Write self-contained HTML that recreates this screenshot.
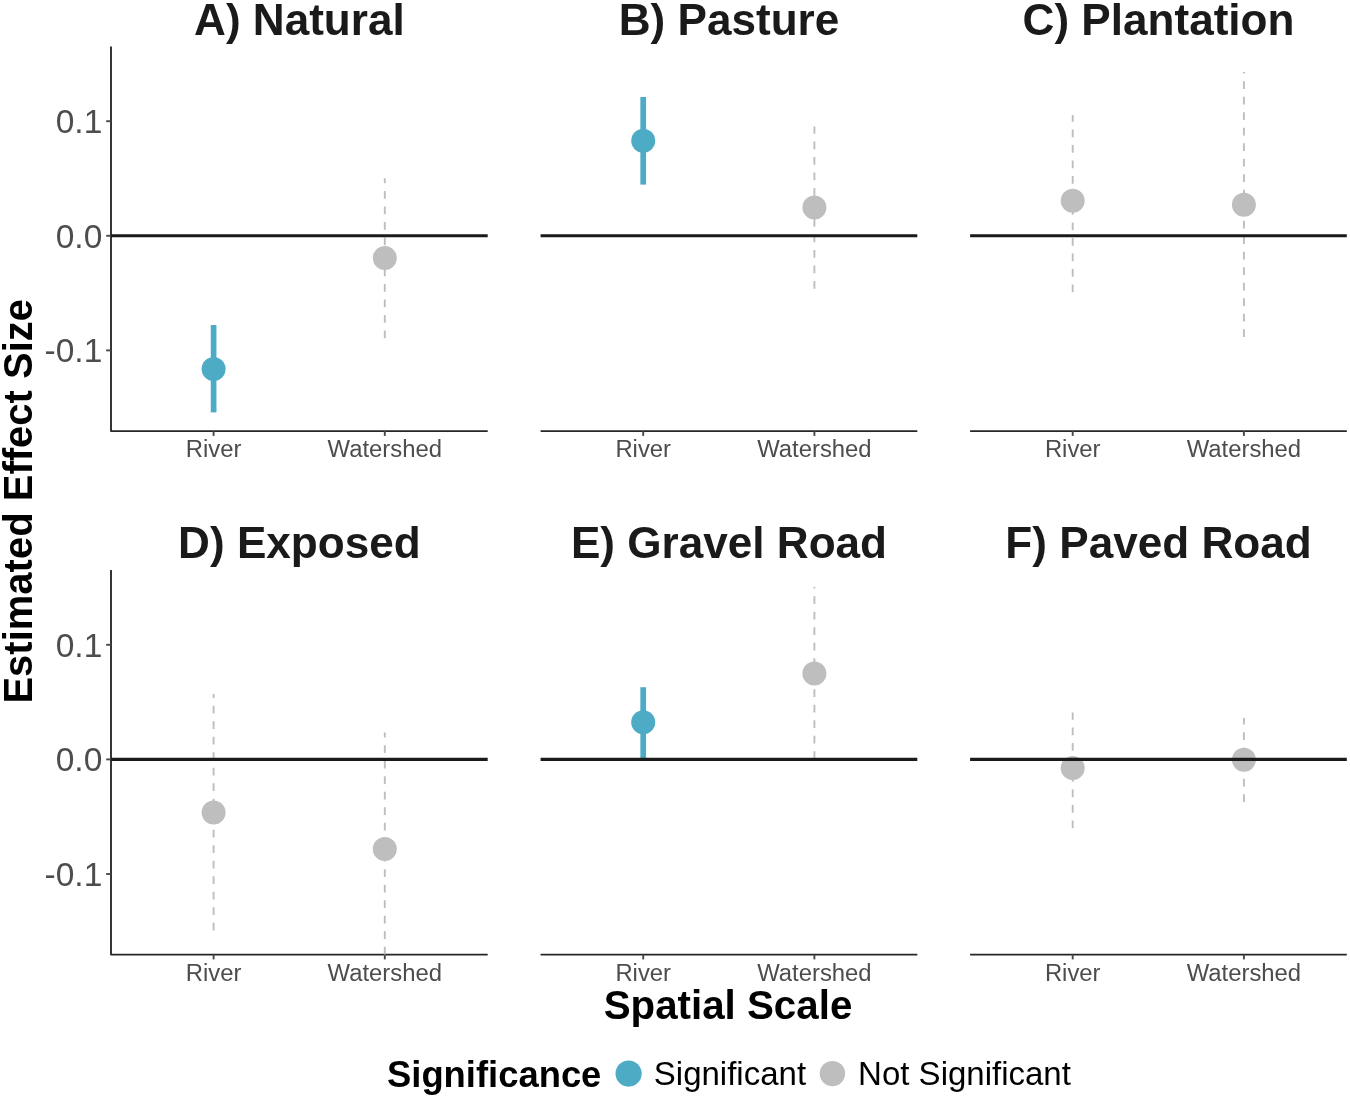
<!DOCTYPE html>
<html><head><meta charset="utf-8"><title>Estimated Effect Size</title>
<style>html,body{margin:0;padding:0;background:#fff}svg{display:block}text{font-family:"Liberation Sans",sans-serif}</style></head><body>
<svg width="1350" height="1098" viewBox="0 0 1350 1098">
<rect width="1350" height="1098" fill="#fff"/>
<g>
<text x="299.4" y="34.8" text-anchor="middle" font-size="44.1" font-weight="bold" fill="#1a1a1a">A) Natural</text>
<path d="M111.0 46.6V431.1H487.7" fill="none" stroke="#262626" stroke-width="1.85" stroke-linejoin="round"/>
<line x1="213.6" x2="213.6" y1="431.1" y2="435.9" stroke="#484848" stroke-width="1.9"/>
<text x="213.6" y="457.4" text-anchor="middle" font-size="23.85" fill="#4D4D4D">River</text>
<line x1="384.8" x2="384.8" y1="431.1" y2="435.9" stroke="#484848" stroke-width="1.9"/>
<text x="384.8" y="457.4" text-anchor="middle" font-size="23.85" fill="#4D4D4D">Watershed</text>
<line x1="106.2" x2="111.0" y1="121.2" y2="121.2" stroke="#484848" stroke-width="1.9"/>
<text x="102.3" y="133.2" text-anchor="end" font-size="33.5" fill="#4D4D4D">0.1</text>
<line x1="106.2" x2="111.0" y1="235.8" y2="235.8" stroke="#484848" stroke-width="1.9"/>
<text x="102.3" y="247.8" text-anchor="end" font-size="33.5" fill="#4D4D4D">0.0</text>
<line x1="106.2" x2="111.0" y1="350.4" y2="350.4" stroke="#484848" stroke-width="1.9"/>
<text x="102.3" y="362.4" text-anchor="end" font-size="33.5" fill="#4D4D4D">-0.1</text>
<line x1="213.6" x2="213.6" y1="412.4" y2="325.0" stroke="#4DABC5" stroke-width="5.7"/>
<line x1="384.8" x2="384.8" y1="338.2" y2="178.3" stroke="#BEBEBE" stroke-width="1.9" stroke-dasharray="7.75 7.75"/>
<circle cx="213.6" cy="368.9" r="12.0" fill="#4DABC5"/>
<circle cx="384.8" cy="258.0" r="12.0" fill="#BEBEBE"/>
<line x1="111.0" x2="487.7" y1="235.8" y2="235.8" stroke="#1a1a1a" stroke-width="3.1"/>
</g>
<g>
<text x="729.0" y="34.8" text-anchor="middle" font-size="44.1" font-weight="bold" fill="#1a1a1a">B) Pasture</text>
<path d="M540.6 431.1H917.3" fill="none" stroke="#262626" stroke-width="1.85"/>
<line x1="643.2" x2="643.2" y1="431.1" y2="435.9" stroke="#484848" stroke-width="1.9"/>
<text x="643.2" y="457.4" text-anchor="middle" font-size="23.85" fill="#4D4D4D">River</text>
<line x1="814.4" x2="814.4" y1="431.1" y2="435.9" stroke="#484848" stroke-width="1.9"/>
<text x="814.4" y="457.4" text-anchor="middle" font-size="23.85" fill="#4D4D4D">Watershed</text>
<line x1="643.2" x2="643.2" y1="184.6" y2="97.0" stroke="#4DABC5" stroke-width="5.7"/>
<line x1="814.4" x2="814.4" y1="288.7" y2="126.5" stroke="#BEBEBE" stroke-width="1.9" stroke-dasharray="7.75 7.75"/>
<circle cx="643.2" cy="140.7" r="12.0" fill="#4DABC5"/>
<circle cx="814.4" cy="207.4" r="12.0" fill="#BEBEBE"/>
<line x1="540.6" x2="917.3" y1="235.8" y2="235.8" stroke="#1a1a1a" stroke-width="3.1"/>
</g>
<g>
<text x="1158.5" y="34.8" text-anchor="middle" font-size="44.1" font-weight="bold" fill="#1a1a1a">C) Plantation</text>
<path d="M970.1 431.1H1346.8" fill="none" stroke="#262626" stroke-width="1.85"/>
<line x1="1072.7" x2="1072.7" y1="431.1" y2="435.9" stroke="#484848" stroke-width="1.9"/>
<text x="1072.7" y="457.4" text-anchor="middle" font-size="23.85" fill="#4D4D4D">River</text>
<line x1="1243.9" x2="1243.9" y1="431.1" y2="435.9" stroke="#484848" stroke-width="1.9"/>
<text x="1243.9" y="457.4" text-anchor="middle" font-size="23.85" fill="#4D4D4D">Watershed</text>
<line x1="1072.7" x2="1072.7" y1="292.2" y2="114.9" stroke="#BEBEBE" stroke-width="1.9" stroke-dasharray="7.75 7.75"/>
<line x1="1243.9" x2="1243.9" y1="337.1" y2="72.0" stroke="#BEBEBE" stroke-width="1.9" stroke-dasharray="7.75 7.75"/>
<circle cx="1072.7" cy="200.8" r="12.0" fill="#BEBEBE"/>
<circle cx="1243.9" cy="204.7" r="12.0" fill="#BEBEBE"/>
<line x1="970.1" x2="1346.8" y1="235.8" y2="235.8" stroke="#1a1a1a" stroke-width="3.1"/>
</g>
<g>
<text x="299.4" y="558.3" text-anchor="middle" font-size="44.1" font-weight="bold" fill="#1a1a1a">D) Exposed</text>
<path d="M111.0 570.1V954.6H487.7" fill="none" stroke="#262626" stroke-width="1.85" stroke-linejoin="round"/>
<line x1="213.6" x2="213.6" y1="954.6" y2="959.4" stroke="#484848" stroke-width="1.9"/>
<text x="213.6" y="980.9" text-anchor="middle" font-size="23.85" fill="#4D4D4D">River</text>
<line x1="384.8" x2="384.8" y1="954.6" y2="959.4" stroke="#484848" stroke-width="1.9"/>
<text x="384.8" y="980.9" text-anchor="middle" font-size="23.85" fill="#4D4D4D">Watershed</text>
<line x1="106.2" x2="111.0" y1="644.8" y2="644.8" stroke="#484848" stroke-width="1.9"/>
<text x="102.3" y="656.8" text-anchor="end" font-size="33.5" fill="#4D4D4D">0.1</text>
<line x1="106.2" x2="111.0" y1="759.4" y2="759.4" stroke="#484848" stroke-width="1.9"/>
<text x="102.3" y="771.4" text-anchor="end" font-size="33.5" fill="#4D4D4D">0.0</text>
<line x1="106.2" x2="111.0" y1="874.0" y2="874.0" stroke="#484848" stroke-width="1.9"/>
<text x="102.3" y="886.0" text-anchor="end" font-size="33.5" fill="#4D4D4D">-0.1</text>
<line x1="213.6" x2="213.6" y1="930.5" y2="693.9" stroke="#BEBEBE" stroke-width="1.9" stroke-dasharray="7.75 7.75"/>
<line x1="384.8" x2="384.8" y1="954.6" y2="732.6" stroke="#BEBEBE" stroke-width="1.9" stroke-dasharray="7.75 7.75"/>
<circle cx="213.6" cy="812.5" r="12.0" fill="#BEBEBE"/>
<circle cx="384.8" cy="848.9" r="12.0" fill="#BEBEBE"/>
<line x1="111.0" x2="487.7" y1="759.4" y2="759.4" stroke="#1a1a1a" stroke-width="3.1"/>
</g>
<g>
<text x="729.0" y="558.3" text-anchor="middle" font-size="44.1" font-weight="bold" fill="#1a1a1a">E) Gravel Road</text>
<path d="M540.6 954.6H917.3" fill="none" stroke="#262626" stroke-width="1.85"/>
<line x1="643.2" x2="643.2" y1="954.6" y2="959.4" stroke="#484848" stroke-width="1.9"/>
<text x="643.2" y="980.9" text-anchor="middle" font-size="23.85" fill="#4D4D4D">River</text>
<line x1="814.4" x2="814.4" y1="954.6" y2="959.4" stroke="#484848" stroke-width="1.9"/>
<text x="814.4" y="980.9" text-anchor="middle" font-size="23.85" fill="#4D4D4D">Watershed</text>
<line x1="643.2" x2="643.2" y1="759.1" y2="687.2" stroke="#4DABC5" stroke-width="5.7"/>
<line x1="814.4" x2="814.4" y1="759.1" y2="587.0" stroke="#BEBEBE" stroke-width="1.9" stroke-dasharray="7.75 7.75"/>
<circle cx="643.2" cy="722.2" r="12.0" fill="#4DABC5"/>
<circle cx="814.4" cy="673.6" r="12.0" fill="#BEBEBE"/>
<line x1="540.6" x2="917.3" y1="759.4" y2="759.4" stroke="#1a1a1a" stroke-width="3.1"/>
</g>
<g>
<text x="1158.5" y="558.3" text-anchor="middle" font-size="44.1" font-weight="bold" fill="#1a1a1a">F) Paved Road</text>
<path d="M970.1 954.6H1346.8" fill="none" stroke="#262626" stroke-width="1.85"/>
<line x1="1072.7" x2="1072.7" y1="954.6" y2="959.4" stroke="#484848" stroke-width="1.9"/>
<text x="1072.7" y="980.9" text-anchor="middle" font-size="23.85" fill="#4D4D4D">River</text>
<line x1="1243.9" x2="1243.9" y1="954.6" y2="959.4" stroke="#484848" stroke-width="1.9"/>
<text x="1243.9" y="980.9" text-anchor="middle" font-size="23.85" fill="#4D4D4D">Watershed</text>
<line x1="1072.7" x2="1072.7" y1="828.3" y2="712.4" stroke="#BEBEBE" stroke-width="1.9" stroke-dasharray="7.75 7.75"/>
<line x1="1243.9" x2="1243.9" y1="801.9" y2="717.9" stroke="#BEBEBE" stroke-width="1.9" stroke-dasharray="7.75 7.75"/>
<circle cx="1072.7" cy="768.0" r="12.0" fill="#BEBEBE"/>
<circle cx="1243.9" cy="759.7" r="12.0" fill="#BEBEBE"/>
<line x1="970.1" x2="1346.8" y1="759.4" y2="759.4" stroke="#1a1a1a" stroke-width="3.1"/>
</g>
<text transform="translate(32 501.3) rotate(-90)" text-anchor="middle" font-size="40" font-weight="bold" fill="#000">Estimated Effect Size</text>
<text x="728" y="1019.4" text-anchor="middle" font-size="40.3" font-weight="bold" fill="#000">Spatial Scale</text>
<text x="387" y="1087" font-size="36.4" font-weight="bold" fill="#000">Significance</text>
<circle cx="628.6" cy="1073.6" r="13.1" fill="#4DABC5"/>
<text x="653.8" y="1085" font-size="33" fill="#000">Significant</text>
<circle cx="832.4" cy="1073.6" r="12.7" fill="#BEBEBE"/>
<text x="858.1" y="1085" font-size="33" fill="#000">Not Significant</text>
</svg></body></html>
